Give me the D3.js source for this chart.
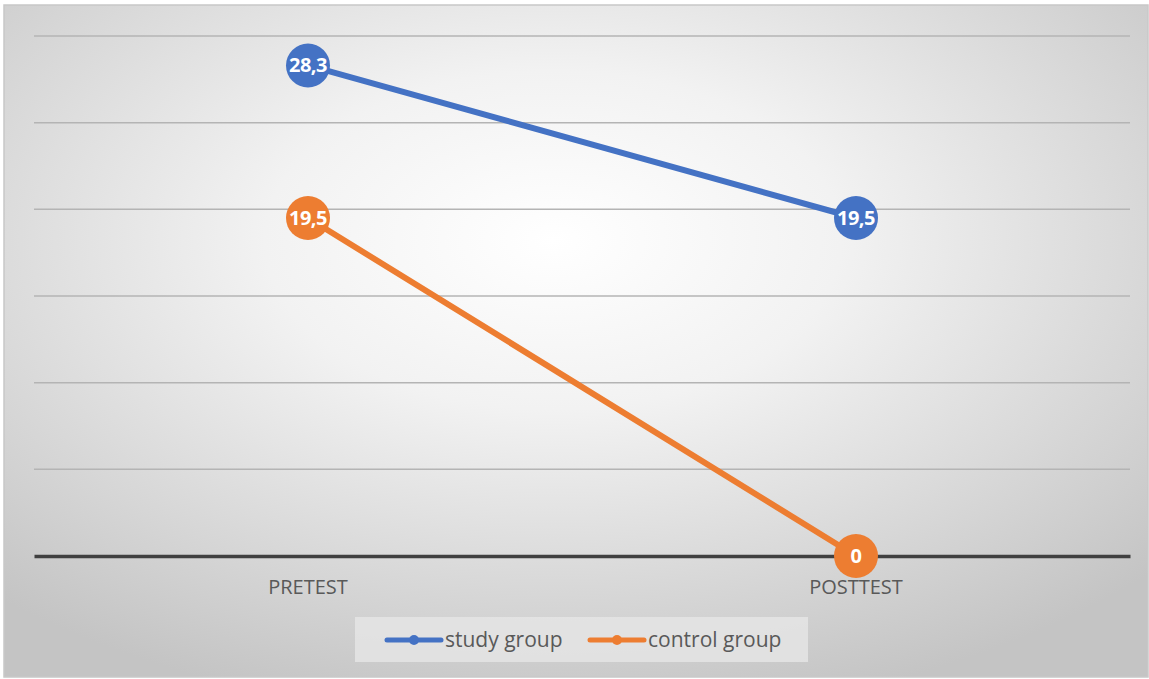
<!DOCTYPE html>
<html>
<head>
<meta charset="utf-8">
<script src="https://cdn.jsdelivr.net/npm/d3@7"></script>
<style>
  body { margin: 0; background: #ffffff; }
  svg text { font-family: "Open Sans", "Liberation Sans", sans-serif; }
</style>
</head>
<body>
<div id="chart"></div>
<script>
// categories and series values
const categories = ["PRETEST", "POSTTEST"];
const studyGroup = [28.3, 19.5];
const controlGroup = [19.5, 0];
const seriesNames = ["study group", "control group"];
const yTicks = [0, 5, 10, 15, 20, 25, 30];

const width = 1149, height = 679;
const margin = { top: 36, right: 19, bottom: 123, left: 34 };
const colors = ["#4472C4", "#ED7D31"];

const svg = d3.select("#chart").append("svg")
    .attr("width", width)
    .attr("height", height);

// background gradient like the office chart style
const defs = svg.append("defs");
const grad = defs.append("radialGradient")
    .attr("id", "bg")
    .attr("cx", "48%").attr("cy", "35%")
    .attr("r", "72%");
grad.append("stop").attr("offset", "0%").attr("stop-color", "#ffffff");
grad.append("stop").attr("offset", "35%").attr("stop-color", "#f2f2f2");
grad.append("stop").attr("offset", "100%").attr("stop-color", "#c4c4c4");

svg.append("rect")
    .attr("x", 4).attr("y", 5)
    .attr("width", width - 5).attr("height", height - 7)
    .attr("fill", "url(#bg)")
    .attr("stroke", "#c8c8c8")
    .attr("stroke-width", 1.5);

const plot = svg.append("g")
    .attr("transform", `translate(${margin.left},${margin.top})`);

const w = width - margin.left - margin.right;
const h = height - margin.top - margin.bottom;

const xScale = d3.scaleBand()
    .domain(categories)
    .range([0, w]);

const yScale = d3.scaleLinear()
    .domain([0, 30])
    .range([h, 0]);

// gridlines
plot.selectAll("line.grid")
    .data(yTicks.filter(d => d > 0))
    .enter()
    .append("line")
    .attr("class", "grid")
    .attr("x1", 0).attr("x2", w)
    .attr("y1", d => yScale(d)).attr("y2", d => yScale(d))
    .attr("stroke", "#b4b4b4")
    .attr("stroke-width", 1.5);

// baseline axis
const xAxis = d3.axisBottom(xScale).tickSize(0).tickPadding(24);
const gx = plot.append("g")
    .attr("transform", `translate(0,${h})`)
    .call(xAxis);
gx.select(".domain").attr("stroke", "#404040").attr("stroke-width", 3.5);
gx.selectAll("text")
    .attr("fill", "#595959")
    .style("font-size", "20px");

const line = d3.line()
    .x((d, i) => xScale(categories[i]) + xScale.bandwidth() / 2)
    .y(d => yScale(d));

const allSeries = [studyGroup, controlGroup];

allSeries.forEach((vals, si) => {
    plot.append("path")
        .datum(vals)
        .attr("fill", "none")
        .attr("stroke", colors[si])
        .attr("stroke-width", 6)
        .attr("stroke-linecap", "round")
        .attr("d", line);
});

allSeries.forEach((vals, si) => {
    const g = plot.append("g");
    g.selectAll("circle")
        .data(vals)
        .enter()
        .append("circle")
        .attr("cx", (d, i) => xScale(categories[i]) + xScale.bandwidth() / 2)
        .attr("cy", d => yScale(d))
        .attr("r", 22)
        .attr("fill", colors[si]);
    g.selectAll("text")
        .data(vals)
        .enter()
        .append("text")
        .attr("x", (d, i) => xScale(categories[i]) + xScale.bandwidth() / 2)
        .attr("y", d => yScale(d))
        .attr("dy", "0.35em")
        .attr("text-anchor", "middle")
        .attr("fill", "#ffffff")
        .style("font-size", "20px")
        .style("font-weight", "bold")
        .style("letter-spacing", "-0.5px")
        .text(d => String(d).replace(".", ","));
});

// legend
const legend = svg.append("g").attr("transform", "translate(355,617)");
legend.append("rect")
    .attr("width", 453).attr("height", 45)
    .attr("fill", "#e6e6e6")
    .attr("opacity", 0.8);

const legendX = [32, 235];
seriesNames.forEach((name, i) => {
    const item = legend.append("g").attr("transform", `translate(${legendX[i]},23)`);
    item.append("line")
        .attr("x1", 0).attr("x2", 54)
        .attr("stroke", colors[i])
        .attr("stroke-width", 5)
        .attr("stroke-linecap", "round");
    item.append("circle")
        .attr("cx", 27).attr("r", 5)
        .attr("fill", colors[i]);
    item.append("text")
        .attr("x", 58)
        .attr("dy", "0.35em")
        .attr("fill", "#595959")
        .style("font-size", "21px")
        .text(name);
});
</script>
</body>
</html>
